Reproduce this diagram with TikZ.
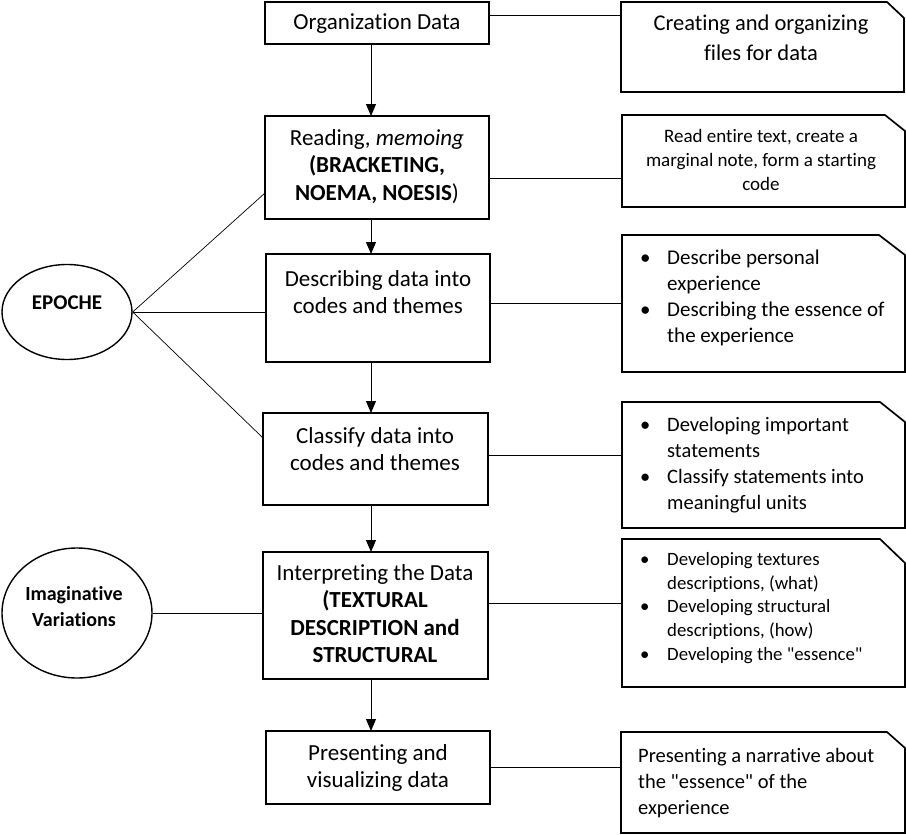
\documentclass[tikz,border=0pt]{standalone}
\usepackage{fontspec}
\setmainfont{Carlito}[Ligatures={TeXOff,CommonOff}]
\usetikzlibrary{arrows.meta,calc,shapes.geometric}
\newcommand\chamf[3]{\draw[boxline] (#1.south west) -- (#1.north west) -- ([xshift=-#2pt]#1.north east) -- ([yshift=-#3pt]#1.north east) -- (#1.south east) -- cycle;}
\newcommand\bul{\makebox[27pt][l]{•}}
\newcommand\ind{\hspace*{27pt}}
\begin{document}
\begin{tikzpicture}[x=1pt,y=-1pt,
  boxline/.style={line width=1.7pt,line join=miter},
  cbox/.style={draw,boxline,inner sep=0pt,outer sep=0pt,anchor=north west},
  rbox/.style={draw=none,inner sep=0pt,outer sep=0pt,anchor=north west},
  ctext/.style={inner sep=0pt,align=center,font=\fontsize{23}{27.5}\selectfont},
  conn/.style={line width=1pt},
  thin/.style={line width=0.7pt},
  arr/.style={line width=1pt,-{Triangle[width=10pt,length=12pt]}},
  ell/.style={draw,ellipse,line width=1.4pt,inner sep=0pt}
]
\useasboundingbox (0,0) rectangle (906,835);
% centre boxes
\node[cbox,minimum width=224pt,minimum height=42pt] (b1) at (265,2) {};
\node[cbox,minimum width=224pt,minimum height=103pt] (b2) at (265,116) {};
\node[cbox,minimum width=224pt,minimum height=108pt] (b3) at (266,254) {};
\node[cbox,minimum width=225pt,minimum height=92pt] (b4) at (263,413) {};
\node[cbox,minimum width=225pt,minimum height=127pt] (b5) at (263,552) {};
\node[cbox,minimum width=224pt,minimum height=73pt] (b6) at (266,731) {};
% centre texts
\node[ctext] (t1) at (377,24) {Organization Data};
\node[ctext,anchor=north] (t2) at (377,129) {Reading, \textit{memoing}\\\textbf{(BRACKETING,}\\\textbf{NOEMA, NOESIS})};
\node[ctext,anchor=north] (t3) at (378,270) {Describing data into\\codes and themes};
\node[ctext,anchor=north] (t4) at (375,427) {Classify data into\\codes and themes};
\node[ctext,anchor=north] (t5) at (375,564) {Interpreting the Data\\\textbf{(TEXTURAL}\\\textbf{DESCRIPTION and}\\\textbf{STRUCTURAL}};
\node[ctext,anchor=north] (t6) at (378,744) {Presenting and\\visualizing data};
% right boxes
\node[rbox,minimum width=283pt,minimum height=90pt] (r1) at (621,2) {};
\node[rbox,minimum width=283pt,minimum height=92pt] (r2) at (622,115) {};
\node[rbox,minimum width=283pt,minimum height=137pt] (r3) at (622,235) {};
\node[rbox,minimum width=283pt,minimum height=126pt] (r4) at (622,402) {};
\node[rbox,minimum width=283pt,minimum height=148pt] (r5) at (622,539) {};
\node[rbox,minimum width=284pt,minimum height=101pt] (r6) at (621,732) {};
\chamf{r1}{17}{16}
\chamf{r2}{20}{16}
\chamf{r3}{26}{20}
\chamf{r4}{25}{20}
\chamf{r5}{25}{24}
\chamf{r6}{18}{16}
% right texts
\node[inner sep=0pt,align=center,anchor=north,font=\fontsize{22.5}{30}\selectfont] (s1) at (761,15) {Creating and organizing\\files for data};
\node[inner sep=0pt,align=center,anchor=north,font=\fontsize{19}{24}\selectfont] (s2) at (761,129) {Read entire text, create a\\marginal note, form a starting\\code};
\node[inner sep=0pt,align=left,anchor=north west,font=\fontsize{21}{26}\selectfont] (s3) at (640,250) {\bul Describe personal\\\ind experience\\\bul Describing the essence of\\\ind the experience};
\node[inner sep=0pt,align=left,anchor=north west,font=\fontsize{20.5}{26}\selectfont] (s4) at (640,417) {\bul Developing important\\\ind statements\\\bul Classify statements into\\\ind meaningful units};
\node[inner sep=0pt,align=left,anchor=north west,font=\fontsize{18.8}{23.8}\selectfont] (s5) at (640,552) {\bul Developing textures\\\ind descriptions, (what)\\\bul Developing structural\\\ind descriptions, (how)\\\bul Developing the "essence"};
\node[inner sep=0pt,align=left,anchor=north west,font=\fontsize{20.5}{26}\selectfont] (s6) at (638,748) {Presenting a narrative about\\the "essence" of the\\experience};
% ellipses
\node[ell,minimum width=130pt,minimum height=95pt] (ep) at (67,312) {};
\node[inner sep=0pt,font=\fontsize{21}{26}\selectfont\bfseries] (ept) at (67,303) {EPOCHE};
\node[ell,minimum width=150pt,minimum height=130pt] (iv) at (77,613) {};
\node[inner sep=0pt,align=center,font=\fontsize{20}{26}\selectfont\bfseries] (ivt) at (74,607) {Imaginative\\Variations};
% helper coordinates
\coordinate (ax) at (371,0);
\coordinate (y1) at (0,15);
\coordinate (y2) at (0,178);
\coordinate (y3) at (0,303);
\coordinate (y4) at (0,455);
\coordinate (y5) at (0,603);
\coordinate (y6) at (0,767);
\coordinate (e2) at (0,193);
\coordinate (e4) at (0,438);
% arrows
\draw[arr] (b1.south -| ax) -- (b2.north -| ax);
\draw[arr] (b2.south -| ax) -- (b3.north -| ax);
\draw[arr] (b3.south -| ax) -- (b4.north -| ax);
\draw[arr] (b4.south -| ax) -- (b5.north -| ax);
\draw[arr] (b5.south -| ax) -- (b6.north -| ax);
% horizontal connectors
\draw[conn] (b1.east |- y1) -- (r1.west |- y1);
\draw[thin] (b2.east |- y2) -- (r2.west |- y2);
\draw[thin] (b3.east |- y3) -- (r3.west |- y3);
\draw[conn] (b4.east |- y4) -- (r4.west |- y4);
\draw[thin] (b5.east |- y5) -- (r5.west |- y5);
\draw[conn] (b6.east |- y6) -- (r6.west |- y6);
% epoche connectors
\draw[thin] (ep.east) -- (b2.west |- e2);
\draw[conn] (ep.east) -- (b3.west |- ep.east);
\draw[thin] (ep.east) -- (b4.west |- e4);
\draw[conn] (iv.east) -- (b5.west |- iv.east);
\end{tikzpicture}
\end{document}
